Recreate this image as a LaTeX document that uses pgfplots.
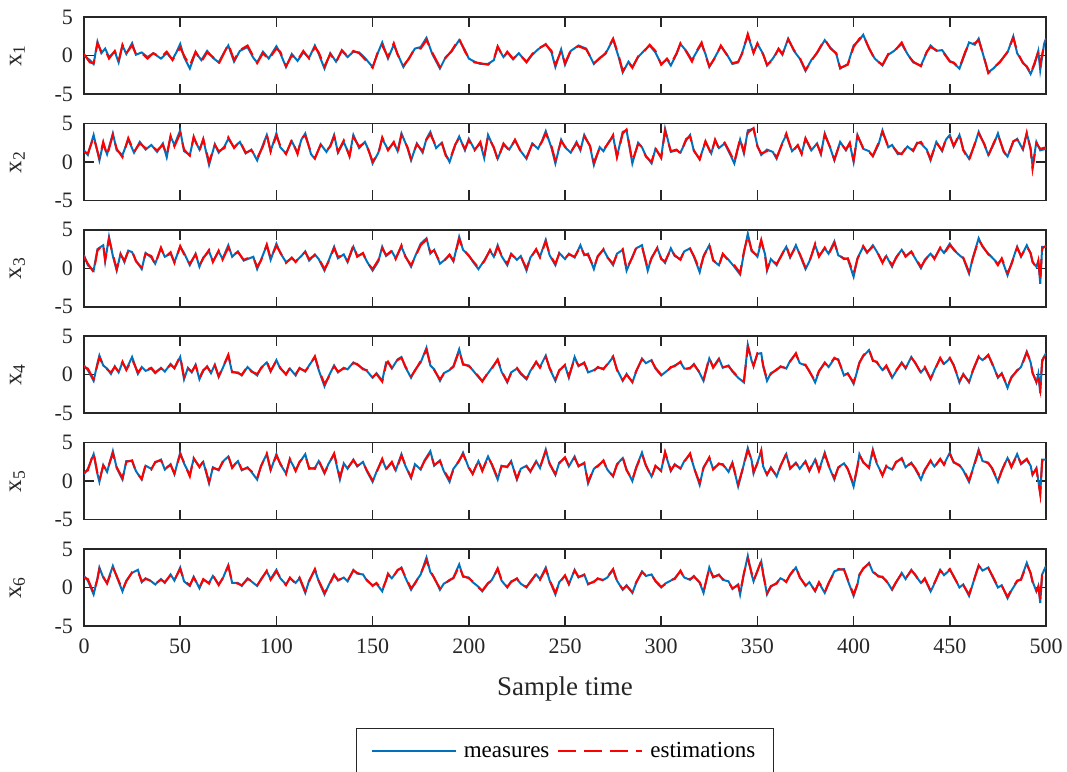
\documentclass[border=0pt]{standalone}
\usepackage{fontspec}
\setmainfont{Liberation Serif}
\usepackage{pgfplots}
\usepackage{pgfplotstable}
\pgfplotsset{compat=1.18}
\usepgfplotslibrary{groupplots}
\definecolor{meas}{RGB}{0,114,189}
\definecolor{est}{RGB}{255,0,0}
\definecolor{frame}{RGB}{38,38,38}

% x1
\pgfplotstableread[row sep=\\]{t m e\\
0 0.0 0.2\\ 3 -0.6 -0.9\\ 5 -1.1 -1.0\\ 7 1.8 1.6\\ 9 0.3 0.5\\ 11 0.9 0.7\\ 13 -0.2 -0.4\\ 16 0.5 0.6\\ 18 -0.9 -0.7\\ 20 1.3 1.4\\
22 0.2 0.3\\ 25 1.6 1.3\\ 27 0.1 0.2\\ 30 0.4 0.3\\ 33 -0.2 -0.4\\ 36 0.3 0.3\\ 40 -0.4 -0.2\\ 43 0.3 0.5\\ 46 -0.5 -0.6\\ 48 0.4 0.2\\
50 1.5 1.0\\ 52 -0.2 0.0\\ 55 -1.7 -1.3\\ 58 0.4 0.5\\ 61 -0.6 -0.8\\ 64 0.6 0.4\\ 67 -0.3 -0.2\\ 70 -0.9 -1.1\\ 73 0.5 0.4\\ 75 1.3 1.5\\
78 -0.8 -0.6\\ 81 0.6 0.7\\ 85 1.1 1.3\\ 88 -0.3 -0.1\\ 90 -0.9 -1.0\\ 93 0.5 0.3\\ 96 -0.4 -0.5\\ 100 1.2 0.9\\ 102 0.3 0.5\\ 105 -1.5 -1.4\\
108 0.2 0.0\\ 111 -0.7 -0.6\\ 114 0.4 0.6\\ 117 -0.3 -0.4\\ 120 1.3 1.1\\ 122 0.2 0.4\\ 125 -1.7 -1.4\\ 128 0.3 0.2\\ 131 -0.8 -0.9\\ 134 0.6 0.7\\
137 -0.2 -0.1\\ 140 0.5 0.6\\ 143 0.4 0.3\\ 146 -0.3 -0.5\\ 150 -1.5 -1.6\\ 153 0.5 0.7\\ 155 1.7 1.3\\ 158 -0.4 -0.2\\ 161 1.4 1.6\\ 163 0.2 0.1\\
166 -1.5 -1.3\\ 169 -0.3 -0.4\\ 172 0.9 1.0\\ 175 1.1 0.9\\ 178 2.3 2.0\\ 181 0.2 0.4\\ 185 -1.7 -1.5\\ 188 -0.2 -0.3\\ 191 0.5 0.6\\ 195 2.0 2.2\\
198 0.7 0.5\\ 200 -0.4 -0.3\\ 203 -0.8 -0.9\\ 206 -1.1 -1.0\\ 210 -1.1 -1.2\\ 213 -0.6 -0.5\\ 215 1.1 1.2\\ 218 -0.2 -0.3\\ 220 0.4 0.5\\ 223 -0.5 -0.4\\
226 0.3 0.2\\ 230 -0.9 -0.8\\ 233 0.1 0.2\\ 236 0.8 0.9\\ 240 1.5 1.4\\ 243 0.4 0.6\\ 245 -1.5 -1.2\\ 248 0.8 0.6\\ 250 -1.2 -1.0\\ 253 0.6 0.7\\
257 1.3 1.2\\ 261 0.9 0.8\\ 265 -1.1 -1.0\\ 268 -0.3 -0.4\\ 271 0.2 0.3\\ 275 2.1 2.2\\ 278 -0.3 -0.1\\ 280 -2.2 -2.0\\ 283 -0.8 -0.9\\ 285 -1.5 -1.6\\
288 -0.2 -0.1\\ 291 0.6 0.5\\ 294 1.3 1.4\\ 297 0.4 0.6\\ 300 -1.1 -1.2\\ 303 -0.5 -0.4\\ 305 -1.3 -1.1\\ 308 0.2 0.3\\ 310 1.5 1.6\\ 313 0.6 0.5\\
316 -0.6 -0.8\\ 318 0.3 0.4\\ 321 1.5 1.7\\ 323 0.2 0.0\\ 325 -1.5 -1.4\\ 328 -0.2 -0.3\\ 331 1.2 1.3\\ 334 0.2 0.1\\ 337 -1.1 -1.0\\ 340 -0.9 -0.8\\
342 0.3 0.2\\ 345 2.6 2.8\\ 348 0.4 0.3\\ 350 1.5 1.6\\ 353 0.2 0.1\\ 355 -1.3 -1.2\\ 358 -0.4 -0.6\\ 361 0.8 0.9\\ 363 0.1 0.2\\ 366 2.2 2.1\\
369 0.6 0.7\\ 372 -0.4 -0.3\\ 375 -2.0 -1.9\\ 378 -0.6 -0.7\\ 381 0.3 0.4\\ 385 2.0 2.1\\ 388 1.0 0.9\\ 391 0.2 0.3\\ 393 -1.7 -1.6\\ 397 -1.1 -1.2\\
400 1.3 1.1\\ 403 2.0 2.2\\ 405 2.7 2.6\\ 408 0.9 1.0\\ 411 -0.4 -0.5\\ 415 -1.3 -1.2\\ 418 0.1 0.2\\ 421 0.6 0.5\\ 425 1.5 1.7\\ 428 0.2 0.1\\
431 -0.9 -0.8\\ 435 -1.3 -1.4\\ 438 0.4 0.5\\ 440 1.3 1.1\\ 443 0.6 0.7\\ 446 0.7 0.6\\ 450 -0.7 -0.8\\ 452 -1.0 -0.9\\ 455 -1.7 -1.6\\ 458 0.3 0.5\\
460 1.7 1.5\\ 463 1.4 1.6\\ 465 2.2 2.0\\ 468 -0.5 -0.4\\ 470 -2.2 -2.3\\ 473 -1.6 -1.5\\ 476 -0.8 -0.9\\ 480 0.4 0.5\\ 483 2.5 2.3\\ 485 0.3 0.5\\
488 -0.9 -1.0\\ 490 -1.5 -1.4\\ 492 -2.4 -2.3\\ 494 -1.2 -1.0\\ 496 0.6 0.5\\ 497 -1.9 -1.0\\ 499 1.5 1.3\\ 500 2.2 2.0\\
}\dA

% x2
\pgfplotstableread[row sep=\\]{t m e\\
0 1.5 1.3\\ 2 0.9 1.1\\ 5 3.5 3.2\\ 8 0.2 0.5\\ 10 2.4 2.6\\ 12 1.0 0.8\\ 15 3.7 3.5\\ 17 1.5 1.7\\ 20 0.9 0.6\\ 23 2.9 3.1\\
26 1.2 1.3\\ 29 2.6 2.4\\ 32 1.6 1.8\\ 35 2.2 2.1\\ 38 1.3 1.5\\ 41 2.4 2.2\\ 43 0.6 0.9\\ 45 3.3 3.4\\ 47 2.2 2.0\\ 50 4.1 3.7\\
52 1.4 1.6\\ 55 0.9 0.8\\ 57 3.1 3.3\\ 60 1.6 1.4\\ 62 2.9 3.0\\ 65 -0.4 0.0\\ 68 2.3 2.2\\ 70 1.2 1.4\\ 73 2.0 1.8\\ 75 3.0 3.2\\
78 1.9 1.8\\ 81 2.6 2.7\\ 84 1.1 1.2\\ 87 1.6 1.5\\ 90 0.2 0.5\\ 93 2.2 2.0\\ 95 3.5 3.6\\ 97 1.4 1.3\\ 100 3.7 3.4\\ 102 1.9 2.1\\
105 1.1 1.0\\ 108 2.7 2.9\\ 111 1.2 1.0\\ 113 2.9 3.1\\ 115 3.7 3.4\\ 118 1.0 1.2\\ 120 0.4 0.5\\ 123 2.3 2.2\\ 126 1.3 1.5\\ 128 2.1 2.0\\
130 3.5 3.3\\ 132 1.2 1.3\\ 135 2.6 2.8\\ 138 0.8 0.7\\ 140 3.5 3.2\\ 143 1.8 2.0\\ 146 2.6 2.5\\ 148 1.5 1.4\\ 150 -0.2 0.1\\ 153 1.2 1.0\\
155 3.0 3.2\\ 158 1.6 1.5\\ 161 2.5 2.6\\ 163 1.4 1.2\\ 165 3.7 3.5\\ 168 1.9 2.0\\ 170 0.2 0.4\\ 173 2.4 2.3\\ 176 1.2 1.4\\ 178 3.0 2.9\\
180 3.9 3.6\\ 183 1.8 2.0\\ 186 2.5 2.4\\ 188 1.0 0.8\\ 190 0.0 0.2\\ 193 2.2 2.3\\ 195 3.3 3.1\\ 198 1.5 1.7\\ 200 3.0 2.8\\ 203 1.6 1.5\\
206 2.4 2.6\\ 208 0.5 0.7\\ 210 3.5 3.3\\ 213 1.8 1.9\\ 215 0.4 0.3\\ 218 2.2 2.4\\ 221 1.6 1.5\\ 224 2.8 2.9\\ 227 1.4 1.3\\ 230 0.4 0.6\\
233 2.4 2.3\\ 236 1.7 1.8\\ 238 2.7 2.6\\ 240 4.0 3.7\\ 243 1.8 2.0\\ 245 -0.2 0.2\\ 248 2.9 2.7\\ 250 1.9 2.0\\ 253 1.2 1.3\\ 256 2.6 2.4\\
258 1.5 1.7\\ 260 3.5 3.3\\ 263 2.0 2.1\\ 265 -0.4 -0.1\\ 268 1.9 1.8\\ 270 1.4 1.6\\ 273 2.7 2.6\\ 275 3.3 3.5\\ 277 0.7 0.6\\ 280 3.9 3.7\\
282 4.1 4.2\\ 285 -0.2 0.1\\ 288 2.5 2.3\\ 290 1.9 2.0\\ 292 0.8 0.7\\ 295 -0.2 0.0\\ 297 1.7 1.8\\ 300 0.6 0.5\\ 302 4.3 4.0\\ 305 1.3 1.4\\
308 1.5 1.6\\ 310 1.2 1.1\\ 313 2.8 3.0\\ 315 3.5 3.3\\ 317 1.4 1.5\\ 320 0.4 0.3\\ 323 2.6 2.7\\ 326 1.1 1.0\\ 328 2.8 2.9\\ 330 1.8 1.7\\
333 2.4 2.5\\ 336 0.9 1.1\\ 338 -0.2 0.0\\ 341 2.9 3.0\\ 343 1.1 1.3\\ 345 4.1 3.8\\ 348 4.3 4.4\\ 350 2.1 2.0\\ 352 0.9 1.1\\ 355 1.6 1.4\\
358 1.3 1.4\\ 360 0.4 0.6\\ 363 2.5 2.4\\ 365 3.5 3.7\\ 368 1.4 1.3\\ 371 2.1 2.2\\ 373 1.1 1.0\\ 375 3.0 3.1\\ 378 1.5 1.6\\ 381 2.4 2.3\\
383 1.0 1.1\\ 385 3.7 3.5\\ 388 1.7 1.8\\ 390 0.2 0.3\\ 393 2.6 2.5\\ 396 1.5 1.6\\ 398 2.4 2.5\\ 400 0.0 0.2\\ 402 3.5 3.4\\ 405 1.7 1.8\\
408 1.4 1.3\\ 410 0.7 0.8\\ 413 2.3 2.5\\ 415 4.1 3.9\\ 418 1.9 2.0\\ 420 2.2 2.1\\ 423 1.0 1.2\\ 425 1.1 1.0\\ 428 2.0 2.1\\ 431 1.4 1.5\\
433 2.5 2.4\\ 435 2.4 2.6\\ 438 1.6 1.5\\ 440 0.2 0.4\\ 443 2.6 2.5\\ 446 1.4 1.5\\ 448 2.9 3.0\\ 450 3.5 3.3\\ 452 2.0 2.1\\ 455 3.5 3.6\\
457 1.6 1.5\\ 460 0.4 0.2\\ 463 2.3 2.4\\ 465 3.9 3.7\\ 468 2.2 2.3\\ 470 0.9 0.8\\ 473 2.4 2.6\\ 475 3.7 3.5\\ 478 1.3 1.4\\ 480 0.7 0.6\\
483 2.6 2.7\\ 485 3.0 2.9\\ 488 1.6 1.7\\ 490 3.7 3.8\\ 492 1.8 1.6\\ 493 -0.6 -0.9\\ 495 2.6 2.4\\ 497 1.5 1.7\\ 500 1.7 1.9\\
}\dB

% x3
\pgfplotstableread[row sep=\\]{t m e\\
0 1.7 1.5\\ 2 0.4 0.6\\ 5 -0.3 -0.5\\ 7 2.5 2.3\\ 10 3.0 3.1\\ 11 0.9 1.1\\ 13 4.1 3.8\\ 15 1.6 1.8\\ 17 -0.3 -0.1\\ 19 1.9 1.8\\
21 0.8 1.0\\ 23 2.3 2.2\\ 25 2.1 2.3\\ 27 1.0 0.9\\ 30 -0.1 0.1\\ 32 2.0 1.9\\ 35 1.4 1.6\\ 37 0.6 0.5\\ 40 2.6 2.7\\ 42 1.5 1.4\\
45 1.9 2.1\\ 47 0.8 0.7\\ 50 2.8 2.9\\ 52 2.0 1.8\\ 55 0.4 0.6\\ 58 1.9 1.8\\ 60 0.2 0.4\\ 62 1.4 1.3\\ 65 2.2 2.4\\ 67 0.9 0.8\\
70 2.2 2.3\\ 72 1.2 1.1\\ 75 3.0 2.7\\ 77 1.5 1.7\\ 80 2.2 2.1\\ 83 1.0 1.1\\ 85 1.2 1.3\\ 88 1.5 1.4\\ 90 -0.1 0.2\\ 92 1.1 1.0\\
95 3.0 3.1\\ 97 1.1 1.3\\ 100 3.2 2.9\\ 102 2.0 2.1\\ 105 0.8 0.7\\ 108 1.3 1.4\\ 110 0.9 0.8\\ 113 1.6 1.7\\ 115 2.2 2.1\\ 117 1.0 1.2\\
120 1.8 1.7\\ 122 1.2 1.3\\ 125 -0.3 -0.1\\ 127 0.9 0.8\\ 130 2.8 2.6\\ 132 1.3 1.5\\ 135 1.8 1.7\\ 137 0.8 0.9\\ 140 2.8 3.0\\ 142 1.6 1.5\\
145 1.9 2.0\\ 147 0.9 0.8\\ 150 -0.3 -0.1\\ 153 0.9 1.1\\ 155 2.8 2.6\\ 157 1.6 1.7\\ 160 2.2 2.3\\ 162 1.3 1.2\\ 165 2.8 3.0\\ 167 1.6 1.5\\
170 0.2 0.4\\ 172 1.5 1.4\\ 175 3.2 3.0\\ 178 3.9 3.7\\ 180 1.9 2.1\\ 182 2.4 2.3\\ 185 0.6 0.8\\ 187 1.0 0.9\\ 190 1.7 1.8\\ 192 0.9 1.0\\
195 4.1 3.8\\ 197 2.4 2.5\\ 200 1.7 1.6\\ 202 0.9 1.0\\ 205 -0.1 0.1\\ 208 1.0 0.9\\ 211 2.3 2.4\\ 213 1.5 1.4\\ 215 3.0 2.8\\ 217 1.6 1.7\\
220 0.4 0.6\\ 222 1.9 1.8\\ 225 1.1 1.2\\ 227 1.6 1.5\\ 230 -0.3 0.0\\ 232 1.4 1.3\\ 235 2.4 2.5\\ 237 1.5 1.4\\ 240 3.7 3.5\\ 242 1.7 1.8\\
245 0.4 0.6\\ 247 2.0 1.9\\ 250 1.2 1.3\\ 252 1.9 1.8\\ 255 1.4 1.5\\ 258 3.0 2.8\\ 260 1.7 1.8\\ 262 1.9 1.7\\ 265 -0.1 0.1\\ 267 1.6 1.5\\
270 2.4 2.5\\ 272 1.5 1.4\\ 275 0.4 0.6\\ 277 1.9 1.8\\ 280 2.4 2.5\\ 282 -0.3 -0.1\\ 285 1.5 1.4\\ 287 2.6 2.7\\ 290 3.0 2.8\\ 293 -0.3 0.0\\
295 1.4 1.3\\ 298 2.6 2.7\\ 300 1.3 1.2\\ 302 0.7 0.9\\ 305 2.6 2.5\\ 307 1.6 1.7\\ 310 1.2 1.1\\ 312 2.2 2.3\\ 315 2.6 2.5\\ 317 1.5 1.6\\
320 -0.5 -0.2\\ 322 1.6 1.5\\ 325 3.0 3.1\\ 327 1.0 1.1\\ 330 0.4 0.3\\ 332 1.8 1.9\\ 335 1.1 1.0\\ 338 0.2 0.4\\ 341 -0.8 -0.6\\ 343 2.0 2.2\\
345 4.5 4.2\\ 347 2.2 2.4\\ 348 2.1 2.0\\ 350 1.5 1.7\\ 352 3.5 3.7\\ 354 1.8 1.6\\ 355 -0.3 -0.1\\ 357 1.2 1.1\\ 360 0.4 0.6\\ 362 1.5 1.4\\
365 2.8 2.9\\ 367 1.4 1.5\\ 370 3.0 2.8\\ 372 1.8 1.9\\ 375 -0.1 0.1\\ 377 0.9 0.8\\ 380 3.0 3.2\\ 382 1.6 1.5\\ 385 2.6 2.7\\ 387 1.9 1.8\\
390 3.5 3.3\\ 392 1.7 1.8\\ 395 1.3 1.2\\ 397 1.2 1.3\\ 400 -1.1 -0.7\\ 402 1.3 1.2\\ 405 2.8 2.9\\ 407 2.0 2.1\\ 410 3.0 2.8\\ 412 2.2 2.3\\
415 0.8 0.7\\ 417 1.6 1.7\\ 420 0.2 0.4\\ 422 1.4 1.3\\ 425 2.4 2.5\\ 427 1.6 1.5\\ 430 2.1 2.2\\ 432 1.3 1.4\\ 435 0.0 0.2\\ 437 1.1 1.0\\
440 1.9 2.0\\ 442 1.3 1.2\\ 445 2.6 2.7\\ 447 2.0 1.9\\ 450 3.2 3.0\\ 452 2.4 2.5\\ 455 1.7 1.6\\ 457 1.3 1.4\\ 460 -0.7 -0.5\\ 462 1.4 1.3\\
465 3.9 3.7\\ 467 2.8 2.9\\ 470 1.9 1.8\\ 472 1.4 1.5\\ 475 0.6 0.4\\ 477 1.2 1.3\\ 480 -0.9 -0.6\\ 482 0.6 0.5\\ 485 2.8 2.7\\ 487 1.5 1.6\\
490 3.0 2.8\\ 492 1.9 2.0\\ 493 0.8 0.9\\ 495 0.2 0.0\\ 496 0.9 1.0\\ 497 -2.0 -1.5\\ 498 2.8 2.6\\ 500 2.8 2.9\\
}\dC

% x4
\pgfplotstableread[row sep=\\]{t m e\\
0 1.2 1.0\\ 2 0.6 0.8\\ 5 -0.8 -0.6\\ 7 1.5 1.3\\ 8 2.5 2.2\\ 10 1.2 1.3\\ 12 0.8 0.7\\ 14 0.1 0.3\\ 16 1.1 1.0\\ 18 0.3 0.4\\
20 1.6 1.7\\ 22 0.7 0.6\\ 25 2.3 2.0\\ 28 0.1 0.3\\ 30 1.0 0.9\\ 32 0.5 0.6\\ 35 0.8 0.9\\ 37 0.2 0.3\\ 40 0.9 0.8\\ 42 0.4 0.5\\
45 1.4 1.3\\ 47 0.8 0.9\\ 50 2.3 2.4\\ 52 -0.6 -0.3\\ 54 0.9 0.8\\ 56 0.3 0.4\\ 58 1.3 1.2\\ 60 -0.6 -0.4\\ 62 0.5 0.6\\ 64 1.1 1.0\\
66 0.2 0.3\\ 68 1.3 1.2\\ 70 -0.3 -0.2\\ 72 0.8 0.9\\ 75 2.5 2.6\\ 77 0.3 0.4\\ 80 0.3 0.2\\ 82 -0.1 0.0\\ 85 1.0 1.1\\ 87 0.5 0.4\\
90 -0.1 0.1\\ 92 0.9 0.8\\ 95 1.6 1.7\\ 97 0.4 0.5\\ 100 1.9 1.8\\ 102 0.8 0.9\\ 105 0.1 0.0\\ 107 0.8 0.9\\ 110 -0.1 0.1\\ 112 0.9 0.8\\
115 0.4 0.5\\ 117 1.2 1.1\\ 120 2.3 2.4\\ 122 0.6 0.7\\ 125 -1.5 -1.2\\ 127 -0.3 -0.4\\ 130 1.2 1.1\\ 132 0.3 0.4\\ 135 0.9 0.8\\ 137 0.7 0.8\\
140 1.6 1.5\\ 142 1.3 1.4\\ 145 0.8 0.7\\ 147 0.5 0.6\\ 150 -0.4 -0.3\\ 152 0.2 0.1\\ 155 -0.8 -0.9\\ 157 1.6 1.3\\ 158 1.6 1.7\\ 160 0.8 0.9\\
163 2.0 1.9\\ 165 2.3 2.2\\ 167 1.0 1.1\\ 170 -0.4 -0.2\\ 172 0.6 0.5\\ 175 1.6 1.8\\ 178 3.5 3.2\\ 180 1.2 1.4\\ 182 0.7 0.6\\ 185 -0.8 -0.6\\
187 0.2 0.1\\ 190 0.6 0.7\\ 192 1.1 1.0\\ 195 3.3 3.1\\ 197 1.3 1.4\\ 200 1.2 1.1\\ 202 0.6 0.7\\ 205 -0.3 -0.2\\ 207 -0.8 -0.9\\ 210 0.2 0.3\\
212 0.9 0.8\\ 215 1.9 2.0\\ 217 0.4 0.5\\ 220 -1.0 -0.9\\ 222 0.3 0.2\\ 225 0.8 0.9\\ 227 0.1 0.2\\ 230 -0.6 -0.5\\ 232 0.5 0.4\\ 235 1.6 1.7\\
237 1.0 0.9\\ 240 2.5 2.3\\ 242 0.8 0.9\\ 245 -0.8 -0.6\\ 247 0.6 0.5\\ 250 1.2 1.3\\ 252 -0.4 -0.2\\ 255 2.3 2.1\\ 257 1.1 1.2\\ 260 1.6 1.5\\
262 0.3 0.4\\ 265 0.6 0.5\\ 267 0.9 1.0\\ 270 0.8 0.7\\ 272 1.3 1.4\\ 275 2.3 2.4\\ 277 0.7 0.6\\ 280 -0.8 -0.7\\ 282 0.1 0.0\\ 285 -1.0 -0.9\\
287 0.4 0.5\\ 290 2.1 2.0\\ 292 1.5 1.6\\ 295 1.9 1.8\\ 297 0.8 0.9\\ 300 -0.1 0.0\\ 302 0.3 0.2\\ 305 0.9 1.0\\ 307 1.2 1.1\\ 310 1.6 1.7\\
312 0.8 0.7\\ 315 0.8 0.9\\ 317 1.4 1.3\\ 320 0.2 0.3\\ 322 -0.8 -0.6\\ 325 2.1 2.2\\ 327 1.0 0.9\\ 330 2.1 2.0\\ 332 0.9 1.0\\ 335 1.2 1.1\\
337 0.4 0.5\\ 340 -0.4 -0.3\\ 343 -1.0 -0.8\\ 345 3.9 3.6\\ 347 1.8 2.0\\ 348 1.2 1.1\\ 350 2.7 2.8\\ 352 2.8 2.6\\ 353 1.1 1.2\\ 355 -0.8 -0.6\\
357 0.2 0.1\\ 360 0.6 0.7\\ 362 1.1 1.0\\ 365 0.8 0.9\\ 367 1.8 1.7\\ 370 2.7 2.8\\ 372 1.5 1.4\\ 375 1.2 1.3\\ 377 0.5 0.4\\ 380 -1.0 -0.8\\
382 0.4 0.5\\ 385 1.6 1.5\\ 387 1.0 1.1\\ 390 2.1 2.2\\ 392 2.0 1.9\\ 395 -0.1 0.0\\ 397 0.2 0.1\\ 400 -1.2 -1.0\\ 402 0.6 0.7\\ 403 1.6 1.5\\
405 2.4 2.5\\ 408 3.2 3.3\\ 410 1.9 1.8\\ 412 1.6 1.7\\ 415 0.6 0.5\\ 417 1.1 1.2\\ 420 -0.4 -0.3\\ 422 0.4 0.5\\ 425 1.6 1.5\\ 427 0.8 0.9\\
430 2.3 2.2\\ 432 1.5 1.6\\ 435 0.3 0.2\\ 437 0.9 1.0\\ 440 -0.6 -0.5\\ 442 0.6 0.5\\ 445 2.1 2.2\\ 447 1.4 1.3\\ 450 2.1 2.2\\ 452 1.3 1.2\\
455 -1.0 -0.8\\ 457 0.1 0.0\\ 460 -1.0 -0.9\\ 462 0.5 0.6\\ 465 2.3 2.4\\ 467 1.9 1.8\\ 470 2.5 2.6\\ 472 1.5 1.4\\ 475 -0.4 -0.3\\ 477 0.2 0.1\\
480 -1.7 -1.5\\ 482 -0.3 -0.4\\ 485 0.5 0.6\\ 487 1.0 0.9\\ 490 3.0 2.9\\ 492 1.6 1.7\\ 493 0.3 0.2\\ 495 -1.0 -0.9\\ 496 0.1 0.0\\ 497 -2.4 -1.8\\
498 1.9 1.7\\ 500 2.8 2.9\\
}\dD

% x5
\pgfplotstableread[row sep=\\]{t m e\\
0 0.9 1.1\\ 2 1.6 1.4\\ 5 3.5 3.7\\ 7 0.9 1.0\\ 8 -0.1 0.1\\ 10 2.1 2.0\\ 12 1.2 1.4\\ 15 3.9 3.6\\ 17 1.7 1.8\\ 20 0.2 0.4\\
22 2.6 2.5\\ 25 2.6 2.7\\ 27 1.3 1.2\\ 30 0.2 0.3\\ 32 2.0 2.1\\ 35 1.6 1.5\\ 37 2.4 2.5\\ 40 2.8 2.7\\ 42 1.5 1.6\\ 45 2.2 2.1\\
47 0.9 1.0\\ 50 3.7 3.5\\ 52 2.3 2.4\\ 55 0.8 0.6\\ 57 2.9 3.0\\ 60 1.9 1.8\\ 62 2.5 2.6\\ 65 -0.3 -0.1\\ 67 1.8 1.7\\ 70 1.4 1.5\\
72 2.5 2.4\\ 75 3.2 3.3\\ 77 1.8 1.7\\ 80 2.6 2.7\\ 82 1.4 1.5\\ 85 1.8 1.7\\ 87 1.2 1.3\\ 90 0.2 0.4\\ 92 2.0 1.9\\ 95 3.5 3.6\\
97 1.4 1.5\\ 100 3.5 3.3\\ 102 2.2 2.3\\ 105 1.0 0.9\\ 107 2.8 2.9\\ 110 1.4 1.3\\ 112 2.4 2.5\\ 115 3.5 3.3\\ 117 1.6 1.7\\ 120 1.7 1.6\\
122 2.6 2.7\\ 125 1.0 1.1\\ 127 2.2 2.1\\ 130 3.5 3.6\\ 133 0.2 0.5\\ 135 2.3 2.2\\ 137 1.6 1.7\\ 140 2.8 2.7\\ 142 1.9 2.0\\ 145 2.5 2.4\\
147 1.3 1.4\\ 150 -0.1 0.1\\ 152 1.2 1.1\\ 155 2.8 2.9\\ 157 1.6 1.5\\ 160 2.4 2.5\\ 162 1.4 1.3\\ 165 3.5 3.3\\ 167 2.0 2.1\\ 170 0.4 0.5\\
172 2.2 2.1\\ 175 1.5 1.6\\ 177 2.7 2.6\\ 180 3.9 3.7\\ 182 2.0 2.1\\ 185 2.7 2.6\\ 187 1.3 1.4\\ 190 -0.1 0.2\\ 192 1.6 1.5\\ 195 2.6 2.7\\
197 3.7 3.5\\ 200 1.7 1.8\\ 202 1.0 0.9\\ 205 2.6 2.7\\ 207 1.4 1.3\\ 210 3.2 3.1\\ 212 2.1 2.2\\ 215 0.2 0.4\\ 217 2.0 1.9\\ 220 1.8 1.9\\
222 2.6 2.5\\ 225 0.2 0.3\\ 227 1.6 1.7\\ 230 2.0 1.9\\ 232 1.2 1.3\\ 235 2.6 2.5\\ 237 1.7 1.8\\ 240 4.1 3.9\\ 242 2.2 2.3\\ 245 0.8 0.9\\
247 2.4 2.3\\ 250 3.0 3.1\\ 252 1.9 2.0\\ 255 3.2 3.0\\ 257 1.9 2.0\\ 260 2.4 2.3\\ 262 -0.3 -0.1\\ 265 1.6 1.7\\ 267 2.0 1.9\\ 270 2.6 2.7\\
272 1.5 1.4\\ 275 0.6 0.7\\ 277 2.2 2.1\\ 280 3.0 3.1\\ 282 1.5 1.4\\ 285 0.0 0.2\\ 287 1.8 1.7\\ 290 3.7 3.5\\ 292 2.0 2.1\\ 295 0.6 0.5\\
297 1.9 2.0\\ 300 1.4 1.3\\ 302 3.7 3.8\\ 305 1.3 1.4\\ 307 2.2 2.1\\ 310 1.6 1.7\\ 312 2.6 2.5\\ 315 3.5 3.6\\ 317 1.8 1.7\\ 320 -0.5 -0.2\\
322 1.8 1.7\\ 325 3.0 3.1\\ 327 1.6 1.5\\ 330 2.2 2.3\\ 332 2.2 2.1\\ 335 1.2 1.3\\ 337 2.4 2.3\\ 340 -0.7 -0.4\\ 342 1.2 1.3\\ 345 4.3 4.0\\
347 2.7 2.8\\ 348 1.0 1.2\\ 350 2.4 2.3\\ 352 3.9 4.0\\ 353 1.9 1.8\\ 355 0.8 0.9\\ 357 1.8 1.7\\ 360 0.6 0.7\\ 362 2.0 1.9\\ 365 3.5 3.6\\
367 1.6 1.7\\ 370 2.4 2.3\\ 372 1.6 1.7\\ 375 2.6 2.5\\ 377 1.3 1.4\\ 380 2.8 2.9\\ 382 1.4 1.3\\ 385 3.7 3.5\\ 387 2.0 2.1\\ 390 0.2 0.4\\
392 1.8 1.7\\ 395 2.3 2.4\\ 397 1.6 1.5\\ 400 -0.7 -0.4\\ 402 1.8 1.9\\ 403 3.5 3.4\\ 405 2.4 2.5\\ 408 1.8 1.7\\ 410 4.1 3.9\\ 412 2.3 2.4\\
415 0.8 0.7\\ 417 1.9 2.0\\ 420 1.5 1.4\\ 422 2.4 2.5\\ 425 3.0 2.9\\ 427 1.8 1.9\\ 430 2.4 2.3\\ 432 1.6 1.7\\ 435 0.2 0.4\\ 437 1.5 1.4\\
440 2.6 2.7\\ 442 1.9 1.8\\ 445 2.8 2.9\\ 447 2.2 2.1\\ 450 3.7 3.5\\ 452 2.4 2.5\\ 455 2.1 2.0\\ 457 1.4 1.5\\ 460 -0.1 0.1\\ 462 1.6 1.5\\
465 4.1 3.9\\ 467 2.6 2.7\\ 470 2.4 2.3\\ 472 1.6 1.7\\ 475 -0.1 0.0\\ 477 1.4 1.3\\ 480 3.0 3.1\\ 482 1.9 1.8\\ 485 3.5 3.4\\ 487 2.2 2.3\\
490 2.8 2.9\\ 492 2.0 1.9\\ 493 0.8 0.9\\ 495 1.7 1.6\\ 497 -1.6 -1.7\\ 498 2.8 2.6\\ 500 2.8 2.9\\
}\dE

% x6
\pgfplotstableread[row sep=\\]{t m e\\
0 1.5 1.3\\ 2 0.9 1.1\\ 5 -0.9 -0.7\\ 7 1.2 1.1\\ 8 2.6 2.4\\ 10 1.3 1.4\\ 12 0.6 0.5\\ 15 2.8 2.6\\ 17 1.4 1.5\\ 20 -0.5 -0.3\\
22 0.9 0.8\\ 25 1.9 2.0\\ 28 2.3 2.1\\ 30 0.7 0.8\\ 32 1.2 1.1\\ 35 0.8 0.9\\ 37 0.4 0.5\\ 40 1.1 1.0\\ 42 0.6 0.7\\ 45 1.7 1.6\\
47 0.9 1.0\\ 50 2.6 2.4\\ 52 0.8 0.9\\ 55 0.2 0.3\\ 57 1.4 1.3\\ 60 -0.1 0.0\\ 62 1.0 1.1\\ 65 0.6 0.5\\ 67 1.5 1.6\\ 70 0.4 0.3\\
72 1.1 1.2\\ 75 2.9 2.8\\ 77 0.6 0.7\\ 80 0.6 0.5\\ 82 0.2 0.3\\ 85 1.2 1.1\\ 87 0.8 0.9\\ 90 0.2 0.3\\ 92 1.1 1.0\\ 95 2.1 2.2\\
97 1.1 1.0\\ 100 2.3 2.1\\ 102 1.2 1.3\\ 105 0.4 0.3\\ 107 1.2 1.3\\ 110 0.6 0.5\\ 112 1.2 1.3\\ 115 -0.7 -0.5\\ 117 0.9 0.8\\ 120 2.3 2.4\\
122 0.8 0.9\\ 125 -0.9 -0.7\\ 127 0.2 0.1\\ 130 1.7 1.6\\ 132 0.9 1.0\\ 135 1.3 1.2\\ 137 0.8 0.9\\ 140 2.3 2.2\\ 142 1.8 1.9\\ 145 1.7 1.6\\
147 0.9 1.0\\ 150 0.3 0.2\\ 152 0.5 0.6\\ 155 -0.5 -0.3\\ 157 1.0 0.9\\ 158 1.7 1.8\\ 160 1.2 1.1\\ 163 2.2 2.3\\ 165 2.6 2.5\\ 167 1.3 1.4\\
170 -0.3 -0.1\\ 172 0.6 0.5\\ 175 1.7 1.8\\ 178 3.9 3.5\\ 180 2.0 2.2\\ 182 1.3 1.2\\ 185 -0.3 -0.1\\ 187 0.5 0.4\\ 190 0.9 1.0\\ 192 1.3 1.2\\
195 3.0 2.8\\ 197 1.4 1.5\\ 200 1.3 1.2\\ 202 0.7 0.8\\ 205 0.1 0.0\\ 207 -0.5 -0.4\\ 210 0.5 0.6\\ 212 1.0 0.9\\ 215 2.4 2.5\\ 217 0.9 1.0\\
220 0.0 0.1\\ 222 0.8 0.7\\ 225 1.1 1.2\\ 227 0.5 0.4\\ 230 0.0 0.1\\ 232 0.8 0.7\\ 235 1.7 1.8\\ 237 1.1 1.0\\ 240 2.6 2.4\\ 242 0.9 1.0\\
245 -0.9 -0.7\\ 247 0.7 0.6\\ 250 1.5 1.6\\ 252 0.4 0.5\\ 255 2.3 2.2\\ 257 1.3 1.4\\ 260 1.7 1.6\\ 262 0.4 0.5\\ 265 0.8 0.7\\ 267 1.1 1.2\\
270 1.0 0.9\\ 272 1.3 1.4\\ 275 2.3 2.4\\ 277 0.9 0.8\\ 280 -0.3 -0.2\\ 282 0.3 0.2\\ 285 -0.7 -0.6\\ 287 0.6 0.7\\ 290 2.1 2.0\\ 292 1.5 1.6\\
295 1.7 1.6\\ 297 0.8 0.9\\ 300 0.0 0.1\\ 302 0.5 0.4\\ 305 0.9 1.0\\ 307 1.2 1.1\\ 310 2.1 2.2\\ 312 1.3 1.2\\ 315 1.0 1.1\\ 317 1.5 1.4\\
320 0.6 0.7\\ 322 -0.7 -0.5\\ 325 2.6 2.5\\ 327 1.3 1.4\\ 330 1.7 1.6\\ 332 1.0 1.1\\ 335 0.8 0.7\\ 337 -0.2 -0.1\\ 340 0.4 0.3\\ 341 -0.9 -0.7\\
343 1.8 1.9\\ 345 4.1 3.7\\ 347 1.7 1.9\\ 348 0.8 0.9\\ 350 2.2 2.1\\ 352 3.4 3.5\\ 353 1.8 1.7\\ 355 -0.9 -0.7\\ 357 0.1 0.2\\ 360 0.6 0.5\\
362 1.2 1.3\\ 365 0.8 0.7\\ 367 1.6 1.7\\ 370 2.6 2.7\\ 372 1.4 1.3\\ 375 0.2 0.3\\ 377 0.7 0.6\\ 380 -0.5 -0.4\\ 382 0.6 0.7\\ 385 -0.7 -0.6\\
387 0.5 0.6\\ 390 2.1 2.0\\ 392 2.3 2.4\\ 395 2.4 2.3\\ 397 0.9 1.0\\ 400 -1.1 -0.9\\ 402 0.4 0.5\\ 403 1.7 1.6\\ 405 2.4 2.5\\ 408 3.2 3.1\\
410 2.0 2.1\\ 413 1.5 1.4\\ 415 1.3 1.4\\ 417 0.9 0.8\\ 420 -0.3 -0.2\\ 422 0.6 0.7\\ 425 1.9 1.8\\ 427 1.1 1.2\\ 430 2.3 2.2\\ 432 1.6 1.7\\
435 0.6 0.5\\ 437 1.1 1.2\\ 440 -0.5 -0.4\\ 442 0.5 0.6\\ 445 2.3 2.2\\ 447 1.6 1.7\\ 450 2.3 2.4\\ 452 1.5 1.4\\ 455 0.0 0.1\\ 457 0.4 0.3\\
460 -1.1 -0.9\\ 462 0.5 0.6\\ 465 2.9 2.8\\ 467 2.2 2.3\\ 470 2.6 2.5\\ 472 1.5 1.6\\ 475 0.0 0.1\\ 477 0.3 0.2\\ 480 -1.4 -1.2\\ 482 -0.4 -0.3\\
485 0.8 0.9\\ 487 1.1 1.0\\ 490 3.2 3.0\\ 492 1.8 1.9\\ 493 0.8 0.7\\ 495 -0.5 -0.4\\ 496 0.2 0.1\\ 497 -2.0 -1.6\\ 498 1.7 1.9\\ 500 2.8 2.6\\
}\dF

\pgfplotsset{
  meas line/.style={meas, line width=1pt},
  est line/.style={est, line width=1pt, dash pattern=on 9pt off 4pt},
}

\begin{document}
\begin{tikzpicture}
\begin{groupplot}[
  group style={group size=1 by 6, vertical sep=14.7pt, xticklabels at=edge bottom},
  scale only axis, width=481pt, height=38.5pt,
  xmin=0, xmax=500, ymin=-5, ymax=5,
  xtick={0,50,...,500}, ytick={-5,0,5},
  tick align=inside, major tick length=5pt,
  axis line style={frame, line width=0.75pt},
  tick style={frame, line width=0.75pt},
  tick label style={font=\fontsize{11}{12}\selectfont, text=frame},
  /pgf/number format/assume math mode=true,
  xticklabel style={yshift=-3pt},
  yticklabel style={xshift=-2pt},
  every axis y label/.style={at={(axis description cs:-0.054,0.5)}, rotate=90, anchor=south, font=\fontsize{12.5}{13}\selectfont, text=frame},
  legend image code/.code={\draw[#1] (0pt,0pt) -- (42pt,0pt);},
]
\nextgroupplot[ylabel={x\textsubscript{1}}]
\addplot[meas line] table[x=t,y=m]{\dA};
\addplot[est line] table[x=t,y=e]{\dA};
\nextgroupplot[ylabel={x\textsubscript{2}}]
\addplot[meas line] table[x=t,y=m]{\dB};
\addplot[est line] table[x=t,y=e]{\dB};
\nextgroupplot[ylabel={x\textsubscript{3}}]
\addplot[meas line] table[x=t,y=m]{\dC};
\addplot[est line] table[x=t,y=e]{\dC};
\nextgroupplot[ylabel={x\textsubscript{4}}]
\addplot[meas line] table[x=t,y=m]{\dD};
\addplot[est line] table[x=t,y=e]{\dD};
\nextgroupplot[ylabel={x\textsubscript{5}}]
\addplot[meas line] table[x=t,y=m]{\dE};
\addplot[est line] table[x=t,y=e]{\dE};
\nextgroupplot[ylabel={x\textsubscript{6}},
  xlabel={Sample time},
  xlabel style={at={(axis description cs:0.5,-0.896)}, anchor=base, font=\fontsize{13.5}{14}\selectfont, text=frame},
  legend columns=2,
  legend cell align=left,
  legend style={at={(axis description cs:0.5,-1.325)}, anchor=north, draw=frame, line width=0.5pt,
    font=\fontsize{11.5}{13}\selectfont, text=black, inner xsep=7pt, inner ysep=5pt,
    nodes={text height=1.6ex, text depth=0.3ex},
    /tikz/every odd column/.append style={column sep=1.5pt},
    /tikz/every even column/.append style={column sep=2pt}},
]
\addplot[meas line] table[x=t,y=m]{\dF};
\addplot[est line] table[x=t,y=e]{\dF};
\legend{measures, estimations}
\end{groupplot}
\pgfresetboundingbox
\path[use as bounding box] ([xshift=-42pt,yshift=8.5pt]group c1r1.north west) rectangle ([xshift=10.5pt,yshift=-72.5pt]group c1r6.south east);
\end{tikzpicture}
\end{document}
